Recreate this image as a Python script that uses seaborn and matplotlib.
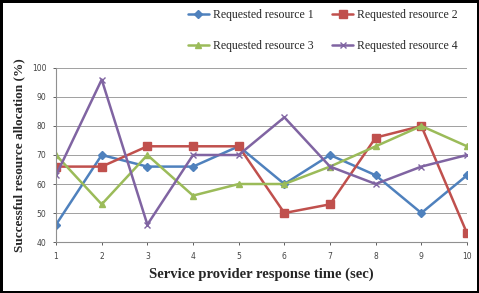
import pandas as pd
import seaborn as sns
import matplotlib.pyplot as plt

# response time (sec)
times = [1, 2, 3, 4, 5, 6, 7, 8, 9, 10]

resource_1 = [46, 70, 66, 66, 73, 60, 70, 63, 50, 63]
resource_2 = [66, 66, 73, 73, 73, 50, 53, 76, 80, 43]
resource_3 = [70, 53, 70, 56, 60, 60, 66, 73, 80, 73]
resource_4 = [63, 96, 46, 70, 70, 83, 66, 60, 66, 70]

series_names = ['Requested resource 1', 'Requested resource 2',
                'Requested resource 3', 'Requested resource 4']


def generate_plot():
    frames = []
    for name, vals in zip(series_names, [resource_1, resource_2, resource_3, resource_4]):
        frames.append(pd.DataFrame({'Time': times, 'Allocation': vals, 'Series': name}))
    df = pd.concat(frames, ignore_index=True)

    sns.set_style('white')

    fig = plt.figure(figsize=(4.79, 2.93), dpi=100, linewidth=2.5, edgecolor='black')
    ax = fig.add_axes([0.117, 0.174, 0.858, 0.594])

    palette = {series_names[0]: '#4F81BD', series_names[1]: '#C0504D',
               series_names[2]: '#9BBB59', series_names[3]: '#8064A2'}
    markers = {series_names[0]: 'D', series_names[1]: 's',
               series_names[2]: '^', series_names[3]: 'x'}
    sizes = {series_names[0]: 4, series_names[1]: 6, series_names[2]: 5, series_names[3]: 5}

    for name in series_names:
        sub = df[df['Series'] == name]
        sns.lineplot(data=sub, x='Time', y='Allocation', ax=ax, color=palette[name],
                     marker=markers[name], markersize=sizes[name], linewidth=1.8,
                     markeredgecolor=palette[name], markeredgewidth=1.0, label=name)

    ax.set_xlim(1, 10)
    ax.set_ylim(40, 100)
    ax.set_xticks(times)
    ax.set_yticks(range(40, 101, 10))
    ax.tick_params(axis='both', labelsize=5.5, colors='#444444', length=2, width=0.6,
                   direction='out', bottom=True, left=True, pad=5)
    ax.yaxis.grid(True, color='#A0A0A0', linewidth=0.7)
    ax.xaxis.grid(False)
    for side in ['top', 'right']:
        ax.spines[side].set_visible(False)
    for side in ['left', 'bottom']:
        ax.spines[side].set_color('#909090')
        ax.spines[side].set_linewidth(0.8)

    ax.set_xlabel('Service provider response time (sec)', fontsize=10.5, fontweight='bold',
                  family='Liberation Serif', labelpad=5)
    ax.set_ylabel('Successful resource allocation (%)', fontsize=9.5, fontweight='bold',
                  family='Liberation Serif', labelpad=5)

    # row-major order: 1, 2 on top row, 3, 4 below
    handles, labels = ax.get_legend_handles_labels()
    order = [0, 2, 1, 3]
    ax.legend([handles[i] for i in order], [labels[i] for i in order],
              ncol=2, loc='upper right', bbox_to_anchor=(0.965, 0.985),
              bbox_transform=fig.transFigure, frameon=False,
              prop={'family': 'Liberation Serif', 'size': 8.5}, handlelength=1.8,
              handletextpad=0.3, columnspacing=1.6, labelspacing=1.6, borderaxespad=0)

    plt.savefig('out.png', dpi=100, edgecolor=fig.get_edgecolor())


if __name__ == '__main__':
    generate_plot()
